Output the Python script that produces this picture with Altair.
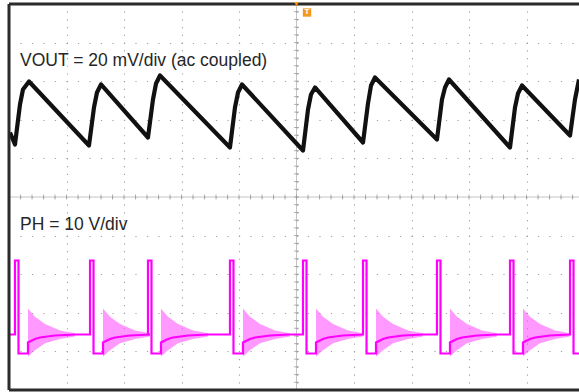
import altair as alt
import pandas as pd

# ---- data (time in divisions, vertical position in divisions; 0 = screen centre) ----
# VOUT (20 mV/div, ac coupled) trace vertices
vout_t = [0.017, 0.104, 0.191, 0.243, 0.348,
          1.391, 1.478, 1.530, 1.600,
          2.417, 2.504, 2.557, 2.626,
          3.843, 3.930, 3.983, 4.052,
          5.113, 5.200, 5.252, 5.322,
          6.157, 6.243, 6.296, 6.365,
          7.443, 7.530, 7.583, 7.652,
          8.713, 8.800, 8.852, 8.922,
          9.757, 9.843, 9.913]
vout_v = [1.671, 1.360, 2.396, 2.785, 2.992,
          1.334, 2.318, 2.707, 2.915,
          1.541, 2.526, 2.940, 3.148,
          1.282, 2.318, 2.707, 2.915,
          1.205, 2.267, 2.655, 2.837,
          1.412, 2.422, 2.889, 3.096,
          1.490, 2.526, 2.837, 3.044,
          1.282, 2.318, 2.681, 2.889,
          1.593, 2.526, 3.044]

# PH (10 V/div) switch-node pulses
ph_pulse_t = [0.104, 1.409, 2.417, 3.843, 5.113, 6.157, 7.443, 8.713, 9.757]
ph_base_v = -3.562
ph_shape_dt = [0.0, 0.0, 0.061, 0.061, 0.226, 0.226, 0.348, 0.435, 0.696, 1.043]
ph_shape_v = [-3.562, -1.645, -1.645, -4.054, -4.054, -3.769, -3.680, -3.640, -3.588, -3.562]
ph_ring_dt = [0.226, 0.348, 0.522, 0.783, 1.043]
ph_ring_top = [-2.889, -3.100, -3.290, -3.460, -3.530]
ph_ring_bot = [-4.132, -3.970, -3.790, -3.676, -3.614]

label_text = ["VOUT = 20 mV/div (ac coupled)", "PH = 10 V/div"]
label_t = [0.191, 0.191]
label_v = [3.389, -0.842]

T_MAX = 9.913
V_MIN, V_MAX = -5, 5

# ---- tables ----
vout_df = pd.DataFrame({"t": vout_t, "v": vout_v, "i": range(len(vout_t))})

ph_rows = [(0.0, ph_base_v)]
for p in ph_pulse_t:
    for dt, v in zip(ph_shape_dt, ph_shape_v):
        ph_rows.append((p + dt, v))
ph_df = pd.DataFrame(ph_rows, columns=["t", "v"])
ph_df["i"] = range(len(ph_df))

ring_rows = []
for k, p in enumerate(ph_pulse_t):
    for dt, top, bot in zip(ph_ring_dt, ph_ring_top, ph_ring_bot):
        ring_rows.append((p + dt, top, bot, k))
ring_df = pd.DataFrame(ring_rows, columns=["t", "v", "v2", "k"])

labels_df = pd.DataFrame({"t": label_t, "v": label_v, "text": label_text})

xs = alt.Scale(domain=[0, T_MAX], nice=False, zero=False)
ys = alt.Scale(domain=[V_MIN, V_MAX], nice=False, zero=False)

x_axis = alt.Axis(values=list(range(1, 10)), grid=True, labels=False, ticks=False,
                  domain=False, title=None, gridDash=[1.2, 6.52], gridDashOffset=0.6,
                  gridColor="#a0a0a0", gridWidth=1.1)
y_axis = alt.Axis(values=list(range(-4, 5)), grid=True, labels=False, ticks=False,
                  domain=False, title=None, gridDash=[1.2, 10.3], gridDashOffset=0.6,
                  gridColor="#a0a0a0", gridWidth=1.1)

X = alt.X("t:Q", scale=xs, axis=x_axis)
Y = alt.Y("v:Q", scale=ys, axis=y_axis)

# centre cross with minor ticks
centre_h = alt.Chart(pd.DataFrame({"t": [0.0], "t2": [T_MAX], "v": [0.0]})).mark_rule(
    color="#c4c4c4", strokeWidth=1).encode(x=X, x2="t2:Q", y=Y)
centre_v = alt.Chart(pd.DataFrame({"t": [5.0], "v": [V_MIN], "v2": [V_MAX]})).mark_rule(
    color="#c4c4c4", strokeWidth=1).encode(x=X, y=Y, y2="v2:Q")
ticks_h = alt.Chart(pd.DataFrame({"t": [i * 0.2 for i in range(50)], "v": 0.0})).mark_tick(
    orient="vertical", size=5, thickness=1, color="#909090").encode(x=X, y=Y)
ticks_v = alt.Chart(pd.DataFrame({"t": 5.0, "v": [V_MIN + i * 0.2 for i in range(51)]})).mark_tick(
    orient="horizontal", size=5, thickness=1, color="#909090").encode(x=X, y=Y)

# frame (left, top, bottom)
frame_left = alt.Chart(pd.DataFrame({"t": [0.0], "v": [V_MIN], "v2": [V_MAX]})).mark_rule(
    color="#2b2b2b", strokeWidth=3).encode(x=X, y=Y, y2="v2:Q")
frame_tb = alt.Chart(pd.DataFrame({"t": [0.0, 0.0], "t2": [T_MAX, T_MAX], "v": [V_MAX, V_MIN]})).mark_rule(
    color="#2b2b2b", strokeWidth=3).encode(x=X, x2="t2:Q", y=Y)

ring = alt.Chart(ring_df).mark_area(color="#ff33ff", opacity=0.5, clip=True).encode(
    x=X, y=Y, y2="v2:Q", detail="k:N")
ph_line = alt.Chart(ph_df).mark_line(color="#ff00ff", strokeWidth=2.2, clip=True).encode(
    x=X, y=Y, order="i:Q")
vout_line = alt.Chart(vout_df).mark_line(color="#111111", strokeWidth=4.2, clip=True,
                                         strokeJoin="round").encode(x=X, y=Y, order="i:Q")

labels = alt.Chart(labels_df).mark_text(align="left", baseline="alphabetic", fontSize=17.5,
                                        font="Liberation Sans", color="#262626").encode(
    x=X, y=Y, text="text:N")

trig_mark = alt.Chart(pd.DataFrame({"t": [5.183], "v": [4.78]})).mark_square(
    size=70, color="#f39a1e", opacity=1, cornerRadius=2).encode(x=X, y=Y)
trig_text = alt.Chart(pd.DataFrame({"t": [5.183], "v": [4.78], "s": ["T"]})).mark_text(
    fontSize=8, fontWeight="bold", color="white", baseline="middle", align="center",
    font="Liberation Sans").encode(x=X, y=Y, text="s:N")
trig_top = alt.Chart(pd.DataFrame({"t": [5.0], "v": [V_MAX]})).mark_point(
    shape="triangle-down", size=22, filled=True, color="#f39a1e", opacity=1).encode(x=X, y=Y)

chart = alt.layer(
    centre_h, centre_v, ticks_h, ticks_v,
    ring, ph_line, vout_line, labels,
    frame_left, frame_tb, trig_mark, trig_text, trig_top,
).properties(
    width=570, height=386,
    autosize=alt.AutoSizeParams(type="none"),
    padding={"left": 9, "top": 4, "right": 0, "bottom": 2},
    background="white",
).configure_view(strokeWidth=0)

chart.save("out.html", embed_options={"renderer": "svg", "actions": False})
